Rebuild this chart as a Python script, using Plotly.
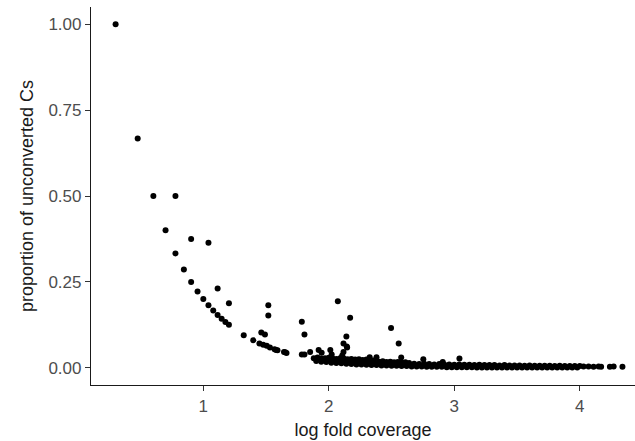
import plotly.graph_objects as go

# isolated points (log10 coverage, proportion unconverted)
sparse_x = [0.301, 0.477, 0.602, 0.778, 0.699, 0.903, 1.041, 0.778, 0.845, 0.903,
            1.114, 0.954, 1.000, 1.204, 1.041, 1.079, 1.114, 1.146, 1.176, 1.204,
            1.518, 1.518, 1.322, 1.462, 1.491, 1.398, 1.447, 1.477, 1.505, 1.531,
            1.580, 1.643, 1.663, 1.568, 1.591, 1.653, 2.072, 1.785, 1.806, 2.170,
            2.140, 2.117, 2.146, 2.496, 2.557, 2.577, 3.041, 1.785, 1.806, 1.851,
            1.919, 2.012, 2.117, 2.107, 2.326, 2.380, 2.753, 2.908, 2.143, 1.943,
            2.023]
sparse_y = [1.0, 0.667, 0.5, 0.5, 0.4, 0.375, 0.364, 0.333, 0.286, 0.25,
            0.231, 0.222, 0.2, 0.188, 0.182, 0.167, 0.154, 0.143, 0.133, 0.125,
            0.182, 0.152, 0.095, 0.103, 0.097, 0.080, 0.071, 0.067, 0.064, 0.059,
            0.052, 0.046, 0.043, 0.054, 0.051, 0.045, 0.194, 0.134, 0.097, 0.146,
            0.091, 0.071, 0.059, 0.116, 0.071, 0.030, 0.027, 0.039, 0.039, 0.046,
            0.052, 0.052, 0.046, 0.036, 0.031, 0.031, 0.025, 0.017, 0.062, 0.044,
            0.039]

# dense band near zero - upper edge
band_top_x = [1.88, 1.91, 1.94, 1.97, 2.00, 2.03, 2.06, 2.09, 2.12, 2.15, 2.18, 2.21,
              2.24, 2.27, 2.30, 2.33, 2.36, 2.40, 2.43, 2.46, 2.49, 2.52, 2.55, 2.58,
              2.61, 2.64, 2.68, 2.72, 2.76, 2.80, 2.84, 2.88, 2.92, 2.96, 3.00, 3.04,
              3.08, 3.12, 3.16, 3.20, 3.24, 3.28, 3.32, 3.36, 3.40, 3.44, 3.48, 3.52,
              3.56, 3.60, 3.64, 3.68, 3.72, 3.76, 3.80, 3.84, 3.88, 3.92, 3.96, 4.00]
band_top_y = [0.028, 0.030, 0.027, 0.028, 0.029, 0.027, 0.026, 0.028, 0.027, 0.025,
              0.026, 0.024, 0.025, 0.023, 0.024, 0.022, 0.021, 0.018, 0.019, 0.017,
              0.018, 0.016, 0.017, 0.015, 0.016, 0.014, 0.012, 0.011, 0.012, 0.011,
              0.010, 0.011, 0.010, 0.010, 0.009, 0.010, 0.009, 0.009, 0.008, 0.009,
              0.008, 0.008, 0.008, 0.007, 0.008, 0.007, 0.007, 0.007, 0.006, 0.007,
              0.006, 0.006, 0.006, 0.006, 0.005, 0.006, 0.005, 0.005, 0.005, 0.005]

# dense band - middle
band_mid_x = [1.92, 1.96, 2.00, 2.04, 2.08, 2.12, 2.16, 2.20, 2.24, 2.28, 2.32, 2.36,
              2.44, 2.48, 2.52, 2.56, 2.60]
band_mid_y = [0.024, 0.022, 0.021, 0.020, 0.019, 0.018, 0.017, 0.016, 0.017, 0.015,
              0.014, 0.013, 0.012, 0.011, 0.011, 0.010, 0.010]

# dense band - lower edge
band_low_x = [1.90, 1.94, 1.98, 2.02, 2.06, 2.10, 2.14, 2.18, 2.22, 2.26, 2.30, 2.34,
              2.38, 2.42, 2.46, 2.50, 2.54, 2.58, 2.62, 2.66, 2.70, 2.74, 2.78, 2.82,
              2.86, 2.90, 2.94, 2.98, 3.02, 3.06, 3.10, 3.14, 3.18, 3.22, 3.26, 3.30,
              3.34, 3.38, 3.42, 3.46, 3.50, 3.54, 3.58, 3.62, 3.66, 3.70, 3.74, 3.78,
              3.82, 3.86, 3.90, 3.94, 3.98]
band_low_y = [0.020, 0.018, 0.017, 0.015, 0.014, 0.013, 0.012, 0.011, 0.010, 0.010,
              0.009, 0.008, 0.008, 0.007, 0.007, 0.006, 0.006, 0.005, 0.005, 0.004,
              0.004, 0.004, 0.003, 0.003, 0.003, 0.003, 0.002, 0.002, 0.002, 0.002,
              0.002, 0.002, 0.001, 0.001, 0.001, 0.001, 0.001, 0.001, 0.001, 0.001,
              0.001, 0.001, 0.001, 0.001, 0.001, 0.001, 0.001, 0.001, 0.001, 0.001,
              0.001, 0.001, 0.001]

# highest coverages, trailing off on the right
tail_x = [4.03, 4.07, 4.11, 4.15, 4.17, 4.24, 4.27, 4.34]
tail_y = [0.004, 0.004, 0.003, 0.004, 0.003, 0.003, 0.004, 0.003]

x_ticks = [1, 2, 3, 4]
y_ticks = [0.0, 0.25, 0.5, 0.75, 1.0]
y_tick_labels = ["0.00", "0.25", "0.50", "0.75", "1.00"]

FONT = "Liberation Sans, Arial, sans-serif"


def style_axis(title: str, tickvals: list, ticktext: list, rng: list, standoff: int) -> dict:
    """
    Builds a ggplot theme_classic-like axis dict
    """
    return dict(
        title=dict(text=title, font=dict(size=18, color="#1a1a1a"), standoff=standoff),
        tickvals=tickvals,
        ticktext=ticktext,
        range=rng,
        showgrid=False,
        zeroline=False,
        showline=True,
        linecolor="#1a1a1a",
        linewidth=1.2,
        ticks="outside",
        ticklen=5,
        tickcolor="#333333",
        tickwidth=1,
        tickfont=dict(size=17, color="#4d4d4d"),
    )


x_all = sparse_x + band_top_x + band_mid_x + band_low_x + tail_x
y_all = sparse_y + band_top_y + band_mid_y + band_low_y + tail_y

fig = go.Figure()
fig.add_trace(go.Scatter(
    x=x_all,
    y=y_all,
    mode="markers",
    marker=dict(size=6, color="black", line=dict(width=0)),
    showlegend=False,
))

fig.update_layout(
    width=635,
    height=441,
    margin=dict(l=91, r=0, t=7, b=56),
    plot_bgcolor="white",
    paper_bgcolor="white",
    font=dict(family=FONT),
    xaxis=style_axis("log fold coverage", x_ticks, [str(v) for v in x_ticks], [0.105, 4.44], 8),
    yaxis=style_axis("proportion of unconverted Cs", y_ticks, y_tick_labels, [-0.05, 1.05], 10),
)
fig.update_xaxes(automargin=False)
fig.update_yaxes(automargin=False)

# drop the default page margin so the figure sits at the window's corner
fig.write_html("out.html", config={"displayModeBar": False},
               post_script="document.body.style.margin='0';")
